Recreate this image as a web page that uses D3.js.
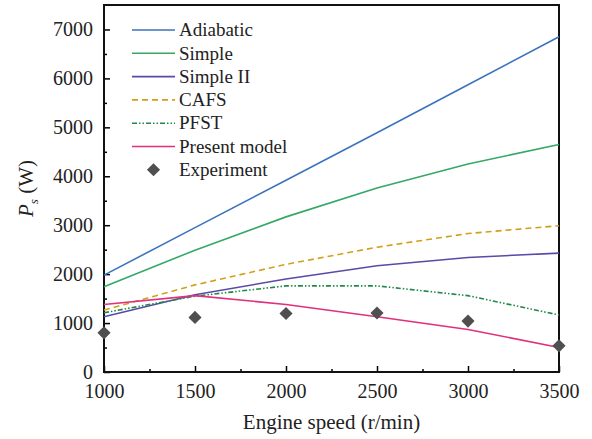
<!DOCTYPE html>
<html>
<head>
<meta charset="utf-8">
<script src="https://cdn.jsdelivr.net/npm/d3@7"></script>
<style>
  body { margin: 0; background: #fff; }
  svg { display: block; }
</style>
</head>
<body>
<svg></svg>
<script>
var speeds = [1000, 1500, 2000, 2500, 3000, 3500]
var adiabatic = [1980, 2950, 3920, 4890, 5870, 6850]
var simple = [1740, 2490, 3170, 3760, 4250, 4650]
var simple2 = [1130, 1580, 1900, 2170, 2340, 2430]
var cafs = [1265, 1780, 2200, 2550, 2830, 2990]
var pfst = [1210, 1550, 1760, 1760, 1560, 1165]
var present = [1380, 1560, 1380, 1130, 870, 500]
var experiment = [800, 1115, 1195, 1205, 1040, 535]
var yTicks = [0, 1000, 2000, 3000, 4000, 5000, 6000, 7000]
var xTicks = [1000, 1500, 2000, 2500, 3000, 3500]

var series = [
  { name: "Adiabatic", values: adiabatic, color: "#3b73bd", dash: null },
  { name: "Simple", values: simple, color: "#35a868", dash: null },
  { name: "Simple II", values: simple2, color: "#5a4aa6", dash: null },
  { name: "CAFS", values: cafs, color: "#d1a01a", dash: "6,4" },
  { name: "PFST", values: pfst, color: "#1f8a47", dash: "5,2,1.5,2,1.5,2" },
  { name: "Present model", values: present, color: "#e0307e", dash: null }
]

var width = 592
var height = 439
var margin = { left: 104, right: 33, top: 5, bottom: 67 }
var serif = '"Liberation Serif", "Times New Roman", serif'

var svg = d3.select("svg")
  .attr("width", width)
  .attr("height", height)

var x = d3.scaleLinear()
  .domain([1000, 3500])
  .range([margin.left, width - margin.right])

var y = d3.scaleLinear()
  .domain([0, 7500])
  .range([height - margin.bottom, margin.top])

// minor ticks
var xMinor = d3.range(1250, 3500, 500)
var yMinor = d3.range(500, 7500, 1000)

var xAxis = svg.append("g")
  .attr("transform", "translate(0," + y(0) + ")")
  .call(d3.axisBottom(x).tickValues(xTicks).tickSize(-6).tickPadding(10).tickFormat(d3.format("d")))
xAxis.select(".domain").remove()
xAxis.selectAll("text")
  .style("font-family", serif).style("font-size", "20px")
  .attr("fill", "#222").attr("dy", "0.8em")
xAxis.selectAll("line").attr("stroke-width", 1.5)
svg.append("g")
  .attr("transform", "translate(0," + y(0) + ")")
  .call(d3.axisBottom(x).tickValues(xMinor).tickSize(-3).tickFormat(""))
  .call(function (g) { g.select(".domain").remove() })
  .selectAll("line").attr("stroke-width", 1.5)

var yAxis = svg.append("g")
  .attr("transform", "translate(" + x(1000) + ",0)")
  .call(d3.axisLeft(y).tickValues(yTicks).tickSize(-6).tickPadding(11).tickFormat(d3.format("d")))
yAxis.select(".domain").remove()
yAxis.selectAll("text")
  .style("font-family", serif).style("font-size", "20px")
  .attr("fill", "#222").attr("dy", "0.3em")
yAxis.selectAll("line").attr("stroke-width", 1.5)
svg.append("g")
  .attr("transform", "translate(" + x(1000) + ",0)")
  .call(d3.axisLeft(y).tickValues(yMinor).tickSize(-3).tickFormat(""))
  .call(function (g) { g.select(".domain").remove() })
  .selectAll("line").attr("stroke-width", 1.5)

// frame
svg.append("rect")
  .attr("x", x(1000))
  .attr("y", y(7500))
  .attr("width", x(3500) - x(1000))
  .attr("height", y(0) - y(7500))
  .attr("fill", "none")
  .attr("stroke", "#111")
  .attr("stroke-width", 2)

var line = d3.line()
  .x(function (d, i) { return x(speeds[i]) })
  .y(function (d) { return y(d) })

svg.selectAll(".series")
  .data(series)
  .enter().append("path")
  .attr("class", "series")
  .attr("d", function (d) { return line(d.values) })
  .attr("fill", "none")
  .attr("stroke", function (d) { return d.color })
  .attr("stroke-width", 1.6)
  .attr("stroke-dasharray", function (d) { return d.dash })

var diamond = d3.symbol().type(d3.symbolDiamond2).size(110)

svg.selectAll(".exp")
  .data(experiment)
  .enter().append("path")
  .attr("class", "exp")
  .attr("d", diamond)
  .attr("transform", function (d, i) { return "translate(" + x(speeds[i]) + "," + y(d) + ")" })
  .attr("fill", "#4f4f4f")

// legend
var legend = svg.append("g").attr("transform", "translate(132,30)")
var rowH = 23.3
series.forEach(function (s, i) {
  legend.append("line")
    .attr("x1", 0).attr("x2", 43)
    .attr("y1", i * rowH).attr("y2", i * rowH)
    .attr("stroke", s.color)
    .attr("stroke-width", 1.6)
    .attr("stroke-dasharray", s.dash)
  legend.append("text")
    .attr("x", 47).attr("y", i * rowH)
    .attr("dy", "0.33em")
    .style("font-family", serif).style("font-size", "19px")
    .attr("fill", "#222")
    .text(s.name)
})
legend.append("path")
  .attr("d", diamond)
  .attr("transform", "translate(21.5," + 6 * rowH + ")")
  .attr("fill", "#4f4f4f")
legend.append("text")
  .attr("x", 47).attr("y", 6 * rowH)
  .attr("dy", "0.33em")
  .style("font-family", serif).style("font-size", "19px")
  .attr("fill", "#222")
  .text("Experiment")

// axis titles
svg.append("text")
  .attr("x", (x(1000) + x(3500)) / 2)
  .attr("y", 429)
  .attr("text-anchor", "middle")
  .style("font-family", serif).style("font-size", "21px")
  .attr("fill", "#222")
  .text("Engine speed (r/min)")

var yt = svg.append("text")
  .attr("transform", "translate(33," + y(3750) + ") rotate(-90)")
  .attr("text-anchor", "middle")
  .style("font-family", serif).style("font-size", "21px")
  .attr("fill", "#222")
yt.append("tspan").attr("font-style", "italic").text("P")
yt.append("tspan").attr("font-style", "italic").style("font-size", "13px").attr("dy", 5).text("s")
yt.append("tspan").attr("dy", -5).text(" (W)")
</script>
</body>
</html>
